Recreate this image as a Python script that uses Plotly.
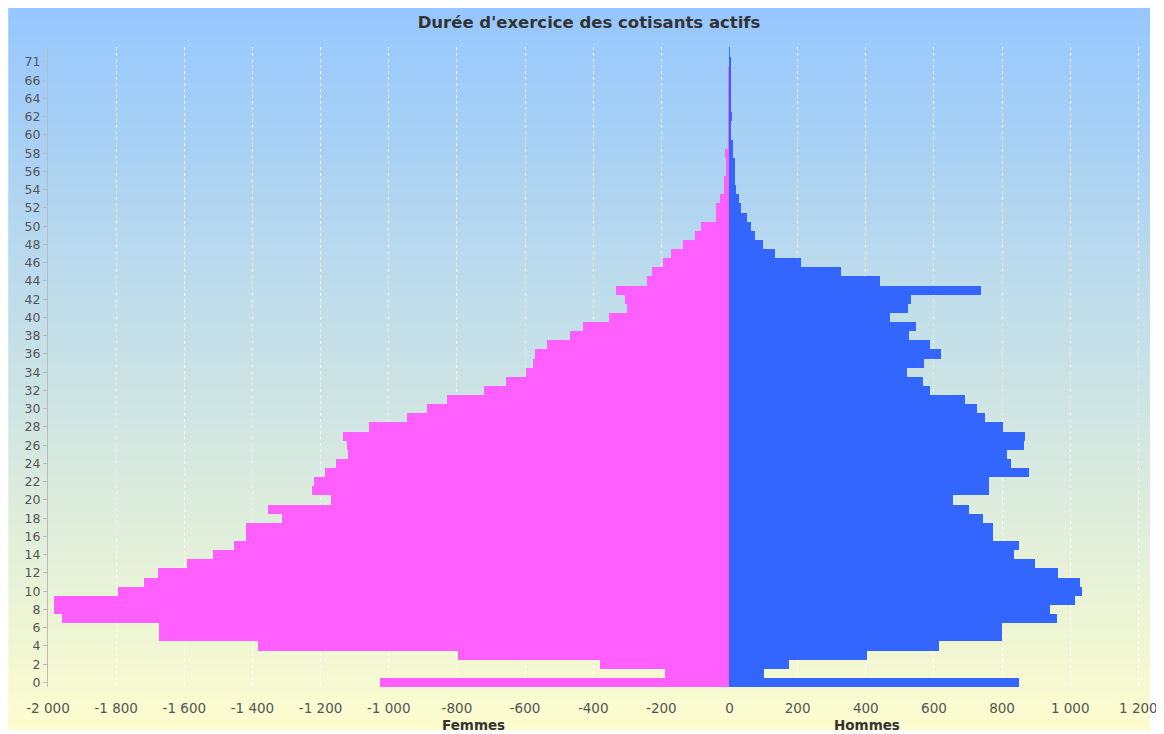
import base64
import struct
import zlib

import plotly.graph_objects as go

# ---------------- data ----------------
categories = [str(i) for i in range(68)] + ["71"]

femmes = [1026, 188, 380, 797, 1385, 1675, 1675, 1960, 1981, 1981,
          1795, 1719, 1678, 1592, 1516, 1453, 1420, 1420, 1312, 1354,
          1169, 1224, 1219, 1186, 1155, 1120, 1123, 1133, 1058, 946,
          888, 829, 720, 655, 598, 578, 571, 535, 467, 429,
          353, 301, 306, 333, 241, 227, 196, 171, 137, 101,
          85, 40, 40, 28, 17, 17, 11, 11, 13, 5,
          5, 5, 2, 5, 2, 5, 2, 5, 1]

hommes = [850, 101, 174, 405, 616, 799, 799, 961, 942, 1015,
          1034, 1030, 965, 897, 836, 850, 772, 772, 744, 704,
          655, 762, 762, 879, 827, 814, 863, 867, 802, 750,
          725, 690, 588, 567, 521, 570, 620, 588, 527, 547,
          472, 524, 533, 739, 442, 328, 211, 134, 98, 75,
          64, 51, 33, 28, 20, 15, 15, 15, 10, 10,
          5, 5, 6, 4, 2, 2, 2, 2, 2]

x_tickvals = [-2000, -1800, -1600, -1400, -1200, -1000, -800, -600, -400, -200,
              0, 200, 400, 600, 800, 1000, 1200]
x_ticktext = ["-2 000", "-1 800", "-1 600", "-1 400", "-1 200", "-1 000", "-800",
              "-600", "-400", "-200", "0", "200", "400", "600", "800", "1 000", "1 200"]
y_tickvals = categories[::2]

title_text = "Durée d'exercice des cotisants actifs"
label_f = "Femmes"
label_h = "Hommes"


# ---------------- background gradient ----------------
def gradient_png(top, bottom, h=256, w=2):
    raw = b""
    for i in range(h):
        t = i / (h - 1)
        px = bytes(round(top[k] + (bottom[k] - top[k]) * t) for k in range(3))
        raw += b"\x00" + px * w

    def chunk(tag, data):
        return (struct.pack(">I", len(data)) + tag + data
                + struct.pack(">I", zlib.crc32(tag + data) & 0xFFFFFFFF))

    png = (b"\x89PNG\r\n\x1a\n"
           + chunk(b"IHDR", struct.pack(">IIBBBBB", w, h, 8, 2, 0, 0, 0))
           + chunk(b"IDAT", zlib.compress(raw))
           + chunk(b"IEND", b""))
    return "data:image/png;base64," + base64.b64encode(png).decode()


# the page body adds an 8px offset, so the figure is sized to fit the window
W, H = 1156, 726
ML, MR, MT, MB = 40, 6, 39, 47
PW = W - ML - MR
PH = H - MT - MB

bg = gradient_png((150, 199, 254), (253, 253, 206))

fig = go.Figure()
fig.add_trace(go.Bar(
    y=categories, x=[-v for v in femmes], orientation="h",
    marker=dict(color="#FF5FFF", line=dict(width=0)), name=label_f,
    hoverinfo="skip"))
fig.add_trace(go.Bar(
    y=categories, x=hommes, orientation="h",
    marker=dict(color="#3366FF", line=dict(width=0)), name=label_h,
    hoverinfo="skip"))

fig.update_layout(
    width=W, height=H,
    margin=dict(l=ML, r=MR, t=MT, b=MB),
    paper_bgcolor="white",
    plot_bgcolor="rgba(0,0,0,0)",
    barmode="overlay", bargap=0,
    showlegend=False,
    font=dict(family="DejaVu Sans", size=12, color="#444444"),
    title=dict(text=title_text, x=581 / W, xref="container", xanchor="center",
               y=1 - 14 / H, yref="container", yanchor="middle",
               font=dict(family="DejaVu Sans", size=16.5, color="#333333",
                         weight="bold")),
    images=[dict(source=bg, xref="paper", yref="paper",
                 x=-ML / PW, y=(H - MB) / PH, sizex=1148 / PW,
                 sizey=722 / PH, xanchor="left", yanchor="top",
                 sizing="stretch", layer="below")],
    xaxis=dict(range=[-2000, 1240], tickmode="array", tickvals=x_tickvals,
               ticktext=x_ticktext, showgrid=True,
               gridcolor="rgba(255,255,255,0.85)", griddash="dot", gridwidth=1,
               zeroline=True, zerolinecolor="#4477FF", zerolinewidth=1.3,
               showline=False, ticks="outside", ticklen=9,
               tickcolor="rgba(0,0,0,0)",
               tickfont=dict(size=13.5, color="#555555")),
    yaxis=dict(type="category", categoryorder="array", categoryarray=categories,
               range=[-0.5, 69.64], tickmode="array", tickvals=y_tickvals,
               showgrid=False, zeroline=False, showline=True,
               linecolor="#BBBBBB", linewidth=1, ticks="outside", ticklen=4,
               tickcolor="#BBBBBB", tickfont=dict(size=12.5, color="#555555")),
    annotations=[
        dict(text="<b>" + label_f + "</b>", x=-750, xref="x", y=-38 / PH,
             yref="paper", showarrow=False, yanchor="middle",
             font=dict(size=13.5, color="#333333")),
        dict(text="<b>" + label_h + "</b>", x=403, xref="x", y=-38 / PH,
             yref="paper", showarrow=False, yanchor="middle",
             font=dict(size=13.5, color="#333333")),
    ],
)

fig.write_html("out.html")
